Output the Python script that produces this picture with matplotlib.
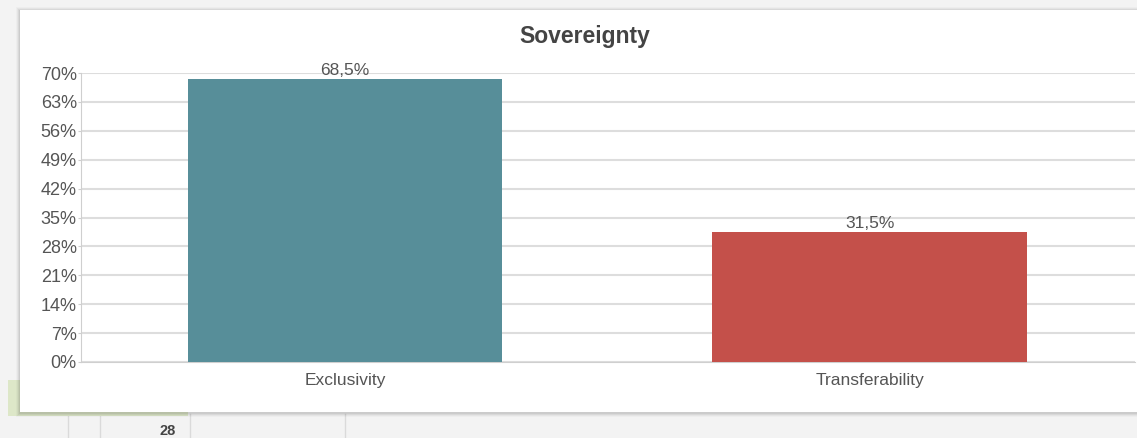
import matplotlib
matplotlib.use("Agg")
import matplotlib.pyplot as plt
from matplotlib.patches import Rectangle

# Data
title = "Sovereignty"
categories = ["Exclusivity", "Transferability"]
values = [68.5, 31.5]
value_labels = ["68,5%", "31,5%"]
yticks = [0, 7, 14, 21, 28, 35, 42, 49, 56, 63, 70]
colors = ["#578e99", "#c4504a"]

W, H = 1137, 438
fig = plt.figure(figsize=(W / 100, H / 100), dpi=100)
fig.patch.set_facecolor("#f3f3f3")

def px(x, y, w, h):
    return (x / W, 1 - (y + h) / H, w / W, h / H)

# background decorations (spreadsheet behind the card)
x0, y0, w0, h0 = px(8, 380, 180, 36)
fig.patches.append(Rectangle((x0, y0), w0, h0, transform=fig.transFigure,
                             facecolor="#dde7c8", edgecolor="none", zorder=0))
for xv in [68, 100, 190, 345]:
    fig.add_artist(plt.Line2D([xv / W, xv / W], [0, 1 - 414 / H], transform=fig.transFigure,
                              color="#dadada", lw=1, zorder=0))
fig.text(176 / W, 1 - 431 / H, "28", ha="right", va="center", fontsize=10.5,
         fontweight="bold", color="#444444", family="Liberation Sans")
# card shadow and card
for i, a in enumerate([0.025, 0.035, 0.05, 0.06]):
    s = 4 - i
    x0, y0, w0, h0 = px(20 - s, 10 - s + 1, 1140, 402 + 2 * s)
    fig.patches.append(Rectangle((x0, y0), w0, h0, transform=fig.transFigure,
                                 facecolor=(0, 0, 0, a), edgecolor="none", zorder=1))
x0, y0, w0, h0 = px(20, 10, 1140, 402)
fig.patches.append(Rectangle((x0, y0), w0, h0, transform=fig.transFigure,
                             facecolor="white", edgecolor="none", zorder=2))

# axes
left, right = 81, 1135
top, bottom = 73, 362
ax = fig.add_axes([left / W, 1 - bottom / H, (right - left) / W, (bottom - top) / H])
ax.set_zorder(3)
ax.patch.set_alpha(0)
xpos = list(range(len(categories)))
bars = ax.bar(xpos, values, width=0.6, color=colors, zorder=3)
ax.set_xlim(-0.503, 1.505)
ax.set_ylim(0, 70)
ax.set_yticks(yticks)
ax.set_yticklabels([f"{t}%" for t in yticks])
ax.set_xticks(xpos)
ax.set_xticklabels(categories)
ax.grid(axis="y", color="#dddddd", lw=1.5, zorder=0)
ax.set_axisbelow(True)
for sp in ["top", "right"]:
    ax.spines[sp].set_visible(False)
ax.spines["left"].set_color("#cfcfcf")
ax.spines["bottom"].set_color("#cfcfcf")
ax.tick_params(axis="y", length=2, color="#cfcfcf", pad=1, labelsize=13, labelcolor="#555555")
ax.tick_params(axis="x", length=0, pad=8, labelsize=12.5, labelcolor="#555555")
for lab in ax.get_xticklabels() + ax.get_yticklabels():
    lab.set_family("Liberation Sans")

for b, lbl in zip(bars, value_labels):
    ax.annotate(lbl, (b.get_x() + b.get_width() / 2, b.get_height()), xytext=(0, 0.5),
                textcoords="offset points", ha="center", va="bottom", fontsize=12.5,
                color="#555555", family="Liberation Sans", zorder=4)

fig.text(585 / W, 1 - 36 / H, title, ha="center", va="center", fontsize=16.5,
         fontweight="bold", color="#444444", family="Liberation Sans", zorder=5)

fig.savefig("out.png", dpi=100)
